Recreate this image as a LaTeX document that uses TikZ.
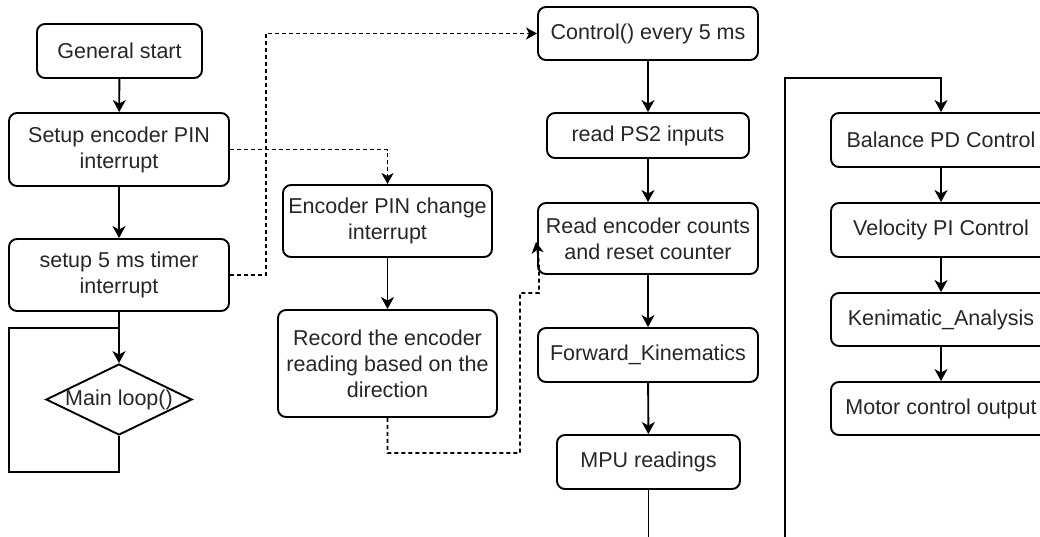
\documentclass[tikz,border=0pt]{standalone}
\usepackage{fontspec}
\setmainfont{Liberation Sans}
\usetikzlibrary{shapes.geometric,arrows.meta}
\begin{document}
\begin{tikzpicture}[x=1pt,y=-1pt,
  every node/.style={font=\fontsize{21.5}{26}\selectfont, text=black!85},
  box/.style={draw, line width=1.9pt, rounded corners=8pt, align=center, inner sep=1pt},
  dia/.style={draw, line width=1.9pt, shape=diamond, inner sep=0pt},
  flow/.style={line width=1.9pt, -{Stealth[length=12pt,width=13pt,inset=3.5pt]}},
  plain/.style={line width=1.9pt},
  dflow/.style={line width=1.6pt, dash pattern=on 4pt off 3pt, -{Stealth[length=11pt,width=12pt,inset=3pt]}},
  dplain/.style={line width=1.6pt, dash pattern=on 4pt off 3pt}]
\useasboundingbox (0,0) rectangle (1040,536);
\clip (0,0) rectangle (1040,536);
% left column
\node[box, minimum width=165pt, minimum height=54pt] (gs) at (119.5,51) {General start};
\node[box, minimum width=220pt, minimum height=73pt] (sep) at (119,149.5) {Setup encoder PIN\\interrupt};
\node[box, minimum width=220pt, minimum height=72pt] (stm) at (119,275) {setup 5 ms timer\\interrupt};
\node[dia, minimum width=146pt, minimum height=71pt, label={[anchor=center]center:Main loop()}] (ml) at (119,399.5) {};
% middle column
\node[box, minimum width=209pt, minimum height=72pt] (epc) at (387.5,221) {Encoder PIN change\\interrupt};
\node[box, minimum width=219pt, minimum height=107pt] (rec) at (387.5,363.5) {Record the encoder\\reading based on the\\direction};
% control column
\node[box, minimum width=220pt, minimum height=53pt] (ctl) at (648,33.5) {Control() every 5 ms};
\node[box, minimum width=202pt, minimum height=45pt] (ps2) at (648,135.5) {read PS2 inputs};
\node[box, minimum width=220pt, minimum height=71pt] (rdc) at (648,238.5) {Read encoder counts\\and reset counter};
\node[box, minimum width=220pt, minimum height=54pt] (fk) at (648,355) {Forward\_Kinematics};
\node[box, minimum width=183pt, minimum height=54pt] (mpu) at (648.5,462) {MPU readings};
% right column
\node[box, minimum width=220pt, minimum height=54pt] (bal) at (941,140) {Balance PD Control};
\node[box, minimum width=220pt, minimum height=54pt] (vel) at (941,230) {Velocity PI Control};
\node[box, minimum width=220pt, minimum height=53pt] (ken) at (941,319.5) {Kenimatic\_Analysis};
\node[box, minimum width=220pt, minimum height=53pt] (mot) at (941,408.5) {Motor control output};
% coordinates
\coordinate (l1) at (119,472);
\coordinate (l2) at (9,472);
\coordinate (l3) at (9,328);
\coordinate (l4) at (119,328);
\coordinate (t1) at (266,275);
\coordinate (t2) at (266,33.5);
\coordinate (r1) at (387.5,453);
\coordinate (r2) at (520,453);
\coordinate (r3) at (520,293);
\coordinate (r4) at (539,293);
\coordinate (r5) at (539,262);
\coordinate (r6) at (536,242);
\coordinate (mb) at (648.5,545);
\coordinate (b1) at (785,545);
\coordinate (b2) at (785,78);
% solid connectors
\draw[flow] (gs) -- (sep);
\draw[flow] (sep) -- (stm);
\draw[flow] (stm) -- (ml);
\draw[plain] (ml.south) -- (l1) -- (l2) -- (l3) -- (l4);
\draw[flow] (epc) -- (rec);
\draw[flow] (ctl) -- (ps2);
\draw[flow] (ps2) -- (rdc);
\draw[flow] (rdc) -- (fk);
\draw[flow] (fk) -- (mpu);
\draw[plain] (mpu.south) -- (mb);
\draw[flow] (b1) -- (b2) -| (bal.north);
\draw[flow] (bal) -- (vel);
\draw[flow] (vel) -- (ken);
\draw[flow] (ken) -- (mot);
% dashed connectors
\draw[dflow] (sep.east) -| (epc.north);
\draw[dflow] (stm.east) -- (t1) -- (t2) -- (ctl.west);
\draw[dflow] (rec.south) -- (r1) -- (r2) -- (r3) -- (r4) -- (r5) -- (r6);
\end{tikzpicture}
\end{document}
